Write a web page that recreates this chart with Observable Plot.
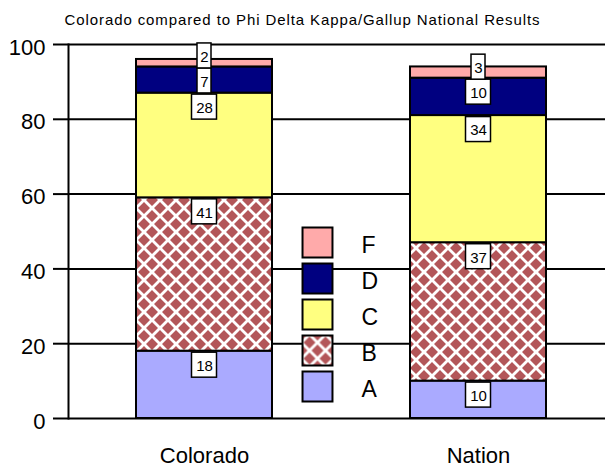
<!DOCTYPE html>
<html>
<head>
<meta charset="utf-8">
<script src="https://cdn.jsdelivr.net/npm/d3@7"></script>
<script src="https://cdn.jsdelivr.net/npm/@observablehq/plot@0.6"></script>
<style>
  body { margin: 0; background: #fff; font-family: "Liberation Sans", Arial, sans-serif; }
  #chart { position: relative; width: 605px; height: 468px; }
  #title { position: absolute; left: 0; top: 11px; width: 605px; text-align: center; font-size: 15px; letter-spacing: 0.9px; color: #000; }
  #legend { position: absolute; left: 290px; top: 222px; }
</style>
</head>
<body>
<div id="chart">
  <div id="title"></div>
  <div id="legend"></div>
</div>
<script>
// Grade shares (percent) for each group
const places = ["Colorado", "Nation"];
const grades = ["A", "B", "C", "D", "F"];
const colorado = [18, 41, 28, 7, 2];
const nation = [10, 37, 34, 10, 3];
const yTicks = [0, 20, 40, 60, 80, 100];
const legendOrder = ["F", "D", "C", "B", "A"];
const titleText = "Colorado compared to Phi Delta Kappa/Gallup National Results";
const gradeColors = ["#aaaaff", "url(#weave)", "#ffff80", "#000080", "#ffaaaa"];

// Stacked segments
const rows = [];
places.forEach((place, i) => {
  const vals = i === 0 ? colorado : nation;
  let base = 0;
  grades.forEach((grade, j) => {
    rows.push({place, grade, value: vals[j], y1: base, y2: base + vals[j]});
    base += vals[j];
  });
});

// Value labels sit just inside the top of each segment; crowded ones are pushed upward
const pxPerUnit = 374 / 100;
const offset = 14 / pxPerUnit, gap = 25 / pxPerUnit, half = 12.5 / pxPerUnit;
const labels = [];
places.forEach(place => {
  let below = -Infinity;
  rows.filter(r => r.place === place).forEach(r => {
    let c = r.y2 - offset;
    if (c - below < gap) c = below + gap;
    below = c;
    labels.push({place, text: String(r.value), c, y1: c - half, y2: c + half});
  });
});

const font = "Liberation Sans, Arial, sans-serif";

const chart = Plot.plot({
  width: 605,
  height: 468,
  marginTop: 44,
  marginBottom: 50,
  marginLeft: 68,
  marginRight: 0,
  style: {fontFamily: font, background: "white", color: "black"},
  x: {domain: places, range: [68, 614], paddingInner: 0.504, paddingOuter: 0.248, label: null},
  y: {domain: [0, 100], label: null},
  color: {domain: grades, range: gradeColors},
  marks: [
    Plot.ruleY(yTicks.slice(1), {stroke: "black", strokeWidth: 2}),
    Plot.barY(rows, {x: "place", y1: "y1", y2: "y2", fill: "grade", stroke: "black", strokeWidth: 2}),
    Plot.barY(labels.filter(d => d.text.length > 1), {x: "place", y1: "y1", y2: "y2", fill: "white", stroke: "black", strokeWidth: 1.5, insetLeft: 55.5, insetRight: 55.5}),
    Plot.barY(labels.filter(d => d.text.length === 1), {x: "place", y1: "y1", y2: "y2", fill: "white", stroke: "black", strokeWidth: 1.5, insetLeft: 61, insetRight: 61}),
    Plot.text(labels, {x: "place", y: "c", text: "text", fontSize: 15, fill: "black", dy: 1}),
    // tick marks and tick labels as two axis marks so the labels can sit a little low
    Plot.axisY(yTicks, {tickSize: 15, strokeWidth: 2, text: null, label: null}),
    Plot.axisY(yTicks, {tickSize: 0, tickPadding: 23, fontSize: 22, dy: 3, label: null}),
    Plot.axisX({tickSize: 0, tickPadding: 29, fontSize: 22, label: null}),
    Plot.ruleY([0], {stroke: "black", strokeWidth: 2}),
    Plot.frame({anchor: "left", stroke: "black", strokeWidth: 2})
  ]
});

// Woven hatch used for grade B
const svg = d3.select(chart);
const defs = svg.insert("defs", ":first-child");
const pat = defs.append("pattern")
  .attr("id", "weave")
  .attr("patternUnits", "userSpaceOnUse")
  .attr("width", 16)
  .attr("height", 16);
pat.append("rect").attr("width", 16).attr("height", 16).attr("fill", "white");
pat.append("path")
  .attr("fill", "#b35659")
  .attr("d", "M8,2L14,8L8,14L2,8Z M0,-6L6,0L0,6L-6,0Z M16,-6L22,0L16,6L10,0Z M0,10L6,16L0,22L-6,16Z M16,10L22,16L16,22L10,16Z");

document.getElementById("chart").prepend(chart);
chart.style.position = "absolute";
chart.style.left = "0";
chart.style.top = "0";
document.getElementById("title").textContent = titleText;

const legend = Plot.plot({
  width: 110,
  height: 185,
  margin: 0,
  style: {fontFamily: font, background: "transparent", color: "black"},
  y: {type: "band", domain: legendOrder, range: [0, 185], axis: null},
  color: {domain: grades, range: gradeColors},
  marks: [
    Plot.dot(legendOrder, {y: d => d, fill: d => d, frameAnchor: "left", dx: 27, symbol: "square", r: 16.9, stroke: "black", strokeWidth: 2}),
    Plot.text(legendOrder, {y: d => d, text: d => d, frameAnchor: "left", dx: 71, textAnchor: "start", fontSize: 23, dy: 3, fill: "black"})
  ]
});
document.getElementById("legend").appendChild(legend);
</script>
</body>
</html>
